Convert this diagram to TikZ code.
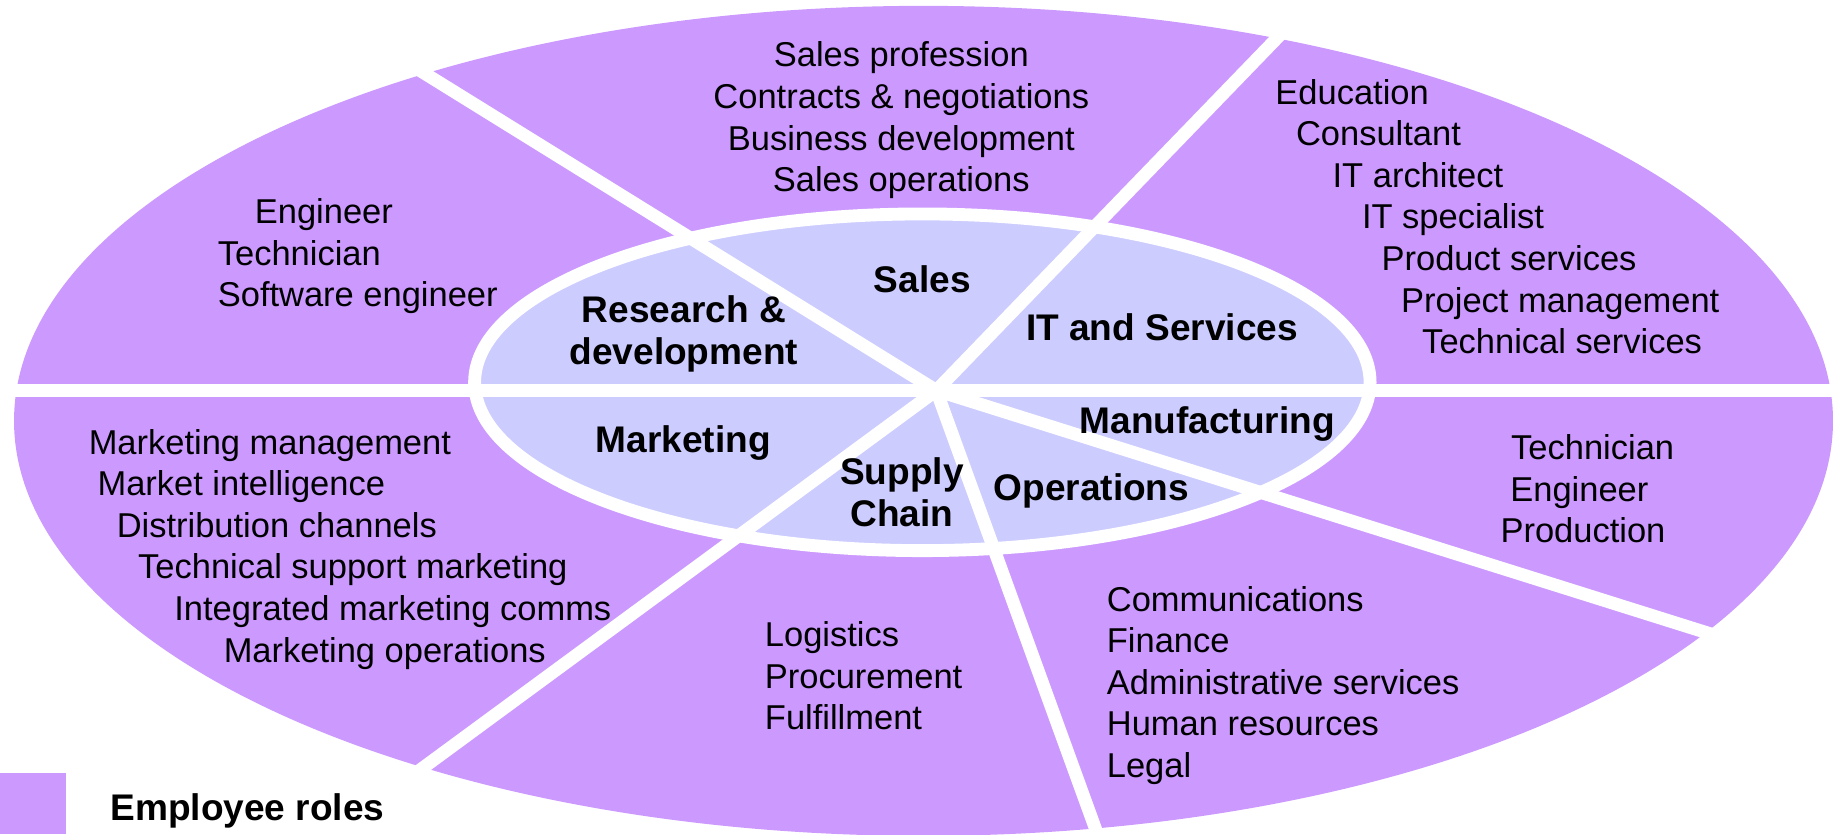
\documentclass[tikz,border=0pt]{standalone}
\usepackage{fontspec}
\setmainfont{Liberation Sans}
\definecolor{rolepurple}{HTML}{CC99FF}
\definecolor{arealavender}{HTML}{CCCCFF}
\begin{document}
\begin{tikzpicture}[x=0.5845pt,y=-0.5845pt,
  role list/.style={inner sep=0pt,align=left,anchor=north west,font=\fontsize{17.24}{20.8}\selectfont},
  area label/.style={inner sep=0pt,align=center,anchor=north,font=\fontsize{18.53}{21}\selectfont\bfseries},
  cut line/.style={white,line width=6.43pt,line cap=round}]
	\useasboundingbox (0,0) rectangle (1568,714);
	\fill[rolepurple] (790,360) ellipse [x radius=778,y radius=355];
	\draw[cut line,fill=arealavender] (789,327) ellipse [x radius=383,y radius=144];

	\coordinate (hub) at (801,334);
	\coordinate (west) at (0,334);
	\coordinate (east) at (1568,334);
	\coordinate (rdsales) at (320,36);
	\coordinate (salesit) at (1120,4);
	\coordinate (mktsupply) at (318,689);
	\coordinate (supplyops) at (952,750);
	\coordinate (opsmanu) at (1523,561);
	\draw[cut line,line cap=butt] (west) -- (east);
	\draw[cut line] (hub) -- (rdsales) (hub) -- (salesit) (hub) -- (mktsupply)
		(hub) -- (supplyops) (hub) -- (opsmanu);

	\node[role list,align=center,anchor=north] (salesroles) at (771,35.5) {Sales profession\\Contracts \& negotiations\\Business development\\Sales operations};
	\node[role list] (rdroles) at (186,169.5) {\hspace*{18.5pt}Engineer\\Technician\\Software engineer};
	\node[role list] (itroles) at (1090.7,67.4) {Education\\\hspace*{10.3pt}Consultant\\\hspace*{28.6pt}IT architect\\\hspace*{43.3pt}IT specialist\\\hspace*{53.1pt}Product services\\\hspace*{62.9pt}Project management\\\hspace*{73.4pt}Technical services};
	\node[role list] (mktroles) at (75.6,366.7) {Marketing management\\\hspace*{4.4pt}Market intelligence\\\hspace*{14pt}Distribution channels\\\hspace*{24.7pt}Technical support marketing\\\hspace*{42.8pt}Integrated marketing comms\\\hspace*{67.5pt}Marketing operations};
	\node[role list] (supplyroles) at (654,531.5) {Logistics\\Procurement\\Fulfillment};
	\node[role list] (opsroles) at (946.5,501) {Communications\\Finance\\Administrative services\\Human resources\\Legal};
	\node[role list] (manuroles) at (1283.3,371.3) {\hspace*{5.3pt}Technician\\\hspace*{4.9pt}Engineer\\Production};

	\node[area label] (sales) at (789,226.7) {Sales};
	\node[area label] (rd) at (585,252.4) {Research \&\\development};
	\node[area label] (it) at (994,268) {IT and Services};
	\node[area label] (mkt) at (584.6,363.6) {Marketing};
	\node[area label] (supply) at (771.5,391.2) {Supply\\Chain};
	\node[area label] (manu) at (1032.7,347.9) {Manufacturing};
	\node[area label] (ops) at (933.6,404.9) {Operations};

	\node[fill=rolepurple,inner sep=0pt,minimum width=32.9pt,minimum height=30.4pt,anchor=south west] (key) at (0,714) {};
	\node[anchor=base west,inner sep=0pt,font=\fontsize{18.53}{21}\selectfont\bfseries] (keytext) at (94.2,701.5) {Employee roles};
\end{tikzpicture}
\end{document}
